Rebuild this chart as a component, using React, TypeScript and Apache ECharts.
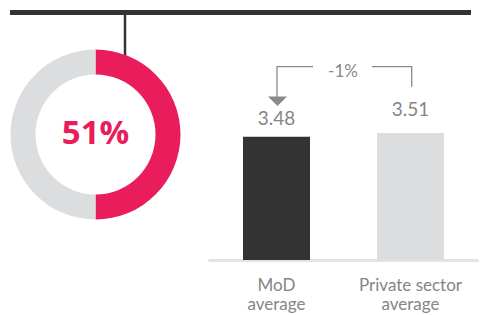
import React, { useEffect, useRef } from "react";
import * as echarts from "echarts";

const shareLabel = "51%";
const ringValues = [50, 50];
const categories = ["MoD\naverage", "Private sector\naverage"];
const barValues = [3.48, 3.51];
const barColors = ["#333333", "#DCDDDF"];
const labelGaps = [10, 15];

const FONT = "Lato, 'Open Sans', sans-serif";

export default function App() {
  const ref = useRef<HTMLDivElement>(null);
  useEffect(() => {
    if (!ref.current) return;
    const chart = echarts.init(ref.current, null, { renderer: "svg" });
    const diff = Math.round(((barValues[0] - barValues[1]) / barValues[1]) * 100);
    const lineColor = "#8a8a8a";
    chart.setOption({
      animation: false,
      grid: { left: 209.5, width: 268, top: 71.4, height: 188.6 },
      xAxis: {
        type: "category",
        data: categories,
        axisLine: { lineStyle: { color: "#E3E3E3", width: 3 } },
        axisTick: { show: false },
        axisLabel: {
          color: "#858585",
          fontSize: 17,
          fontFamily: FONT,
          lineHeight: 19,
          margin: 15,
        },
      },
      yAxis: { type: "value", min: 2.5, max: 4, show: false },
      series: [
        {
          type: "pie",
          center: [95.5, 134.5],
          radius: [60, 85],
          startAngle: 90,
          clockwise: true,
          silent: true,
          label: { show: false },
          labelLine: { show: false },
          data: ringValues.map((v, i) => ({
            value: v,
            itemStyle: { color: i === 0 ? "#E91D5B" : "#DCDDDF" },
          })),
        },
        {
          type: "bar",
          barWidth: 67,
          data: barValues.map((v, i) => ({
            value: v,
            itemStyle: { color: barColors[i] },
            label: { distance: labelGaps[i] },
          })),
          label: {
            show: true,
            position: "top",
            color: "#858585",
            fontSize: 19,
            fontFamily: FONT,
            formatter: (p: any) => p.value.toFixed(2),
          },
        },
      ],
      graphic: [
        { type: "rect", shape: { x: 10, y: 10, width: 461, height: 5 }, style: { fill: "#333333" } },
        { type: "line", shape: { x1: 125, y1: 14, x2: 125, y2: 64 }, style: { stroke: "#333333", lineWidth: 2.5 } },
        { type: "circle", shape: { cx: 125, cy: 64, r: 4.5 }, style: { fill: "#333333" } },
        {
          type: "text",
          x: 95.5,
          y: 131,
          style: {
            text: shareLabel,
            fill: "#E91D5B",
            fontSize: 33,
            fontWeight: "bold",
            fontFamily: "'Open Sans', sans-serif",
            align: "center",
            verticalAlign: "middle",
          },
        },
        {
          type: "polyline",
          shape: { points: [[277, 97], [277, 66.7], [313, 66.7]] },
          style: { stroke: lineColor, lineWidth: 1.3, fill: null },
        },
        {
          type: "polyline",
          shape: { points: [[372, 66.7], [411.7, 66.7], [411.7, 86.7]] },
          style: { stroke: lineColor, lineWidth: 1.3, fill: null },
        },
        {
          type: "polygon",
          shape: { points: [[268, 96.5], [287, 96.5], [277.5, 106]] },
          style: { fill: lineColor },
        },
        {
          type: "text",
          x: 343,
          y: 70,
          style: {
            text: diff + "%",
            fill: lineColor,
            fontSize: 17,
            fontFamily: FONT,
            align: "center",
            verticalAlign: "middle",
          },
        },
      ],
    });
    return () => chart.dispose();
  }, []);
  return <div ref={ref} style={{ width: 480, height: 315, position: "absolute", left: 0, top: 0 }} />;
}
